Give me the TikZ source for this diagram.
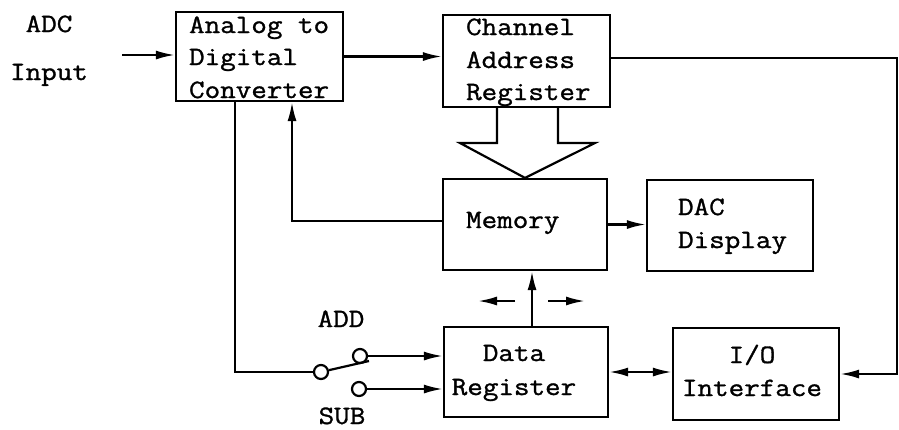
\documentclass[tikz,border=0pt]{standalone}
\usepackage{fontspec}
\newfontfamily\twfont{Latin Modern Mono}[FakeStretch=1.14,FakeBold=1.2]
\usetikzlibrary{arrows.meta}
\begin{document}
\begin{tikzpicture}[x=1pt,y=-1pt,
  line width=2.2pt,
  every node/.style={inner sep=0pt},
  box/.style={draw, rectangle, line width=2.2pt},
  txt/.style={anchor=base west, font=\twfont\fontsize{26.5pt}{33pt}\selectfont},
  ctxt/.style={anchor=base, font=\twfont\fontsize{26.5pt}{33pt}\selectfont},
  contact/.style={draw, circle, minimum size=14pt, line width=2.2pt},
  arr/.style={-{Latex[length=19pt,width=9pt]}},
  arrb/.style={{Latex[length=19pt,width=9pt]}-{Latex[length=19pt,width=9pt]}}
]
\useasboundingbox (0,0) rectangle (899,429);

% boxes
\node[box, minimum width=167pt, minimum height=89pt] (adc) at (259.5,56.5) {};
\node[box, minimum width=167pt, minimum height=92pt] (ch) at (526.5,61) {};
\node[box, minimum width=164pt, minimum height=91pt] (mem) at (525,224.5) {};
\node[box, minimum width=166pt, minimum height=91pt] (dac) at (730,225.5) {};
\node[box, minimum width=164pt, minimum height=90pt] (dr) at (526,372) {};
\node[box, minimum width=166pt, minimum height=92pt] (io) at (756,374) {};

% texts
\node[txt] (t1) at (188,33) {Analog to};
\node[txt] (t2) at (188,65) {Digital};
\node[txt] (t3) at (188,98) {Converter};
\node[txt] (t4) at (465,35) {Channel};
\node[txt] (t5) at (465,68) {Address};
\node[txt] (t6) at (465,100) {Register};
\node[txt] (t7) at (465,228) {Memory};
\node[txt] (t8) at (677,215) {DAC};
\node[txt] (t9) at (677,248) {Display};
\node[ctxt] (t10) at (514,361) {Data};
\node[ctxt] (t11) at (514,395) {Register};
\node[ctxt] (t12) at (752,363) {I/O};
\node[ctxt] (t13) at (752,396) {Interface};
\node[ctxt] (l1) at (49,32) {ADC};
\node[ctxt] (l2) at (49,80) {Input};
\node[ctxt] (l3) at (341,327) {ADD};
\node[ctxt] (l4) at (342,424) {SUB};

% switch
\node[contact] (sw) at (321,372) {};
\node[contact] (add) at (360,356) {};
\node[contact] (sub) at (359,389) {};
\coordinate (lev) at (369,361);
\draw (sw.13) -- (lev);

% coordinates
\coordinate (in) at (122,55);
\coordinate (r1) at (897,58);
\coordinate (m1) at (292,221);
\coordinate (s1) at (235,372);
\coordinate (la1) at (515,301);
\coordinate (la2) at (478,301);
\coordinate (ra1) at (548,301);
\coordinate (ra2) at (585,301);

% connectors
\draw[arr] (in) -- (in -| adc.west);
\draw[arr] (adc.east) -- (adc.east -| ch.west);
\draw[arr] (ch.east |- r1) -- (r1) -- (r1 |- io.east) -- (io.east);
\draw[arr] (mem.east) -- (mem.east -| dac.west);
\draw[arr] (m1 -| mem.west) -- (m1) -- (m1 |- adc.south);
\draw (s1 |- adc.south) -- (s1) -- (sw.west);
\draw[arr] (add.east) -- (add.east -| dr.west);
\draw[arr] (sub.east) -- (sub.east -| dr.west);
\draw[arr] ([xshift=6pt]dr.north) -- ([xshift=6pt]dr.north |- mem.south);
\draw[arr] (la1) -- (la2);
\draw[arr] (ra1) -- (ra2);
\draw[arrb] (dr.east) -- (dr.east -| io.west);

% hollow bus arrow
\draw[line join=miter] (497,107) -- (497,143) -- (460,143) -- (mem.north) -- (595,143) -- (558,143) -- (558,107);
\end{tikzpicture}
\end{document}
